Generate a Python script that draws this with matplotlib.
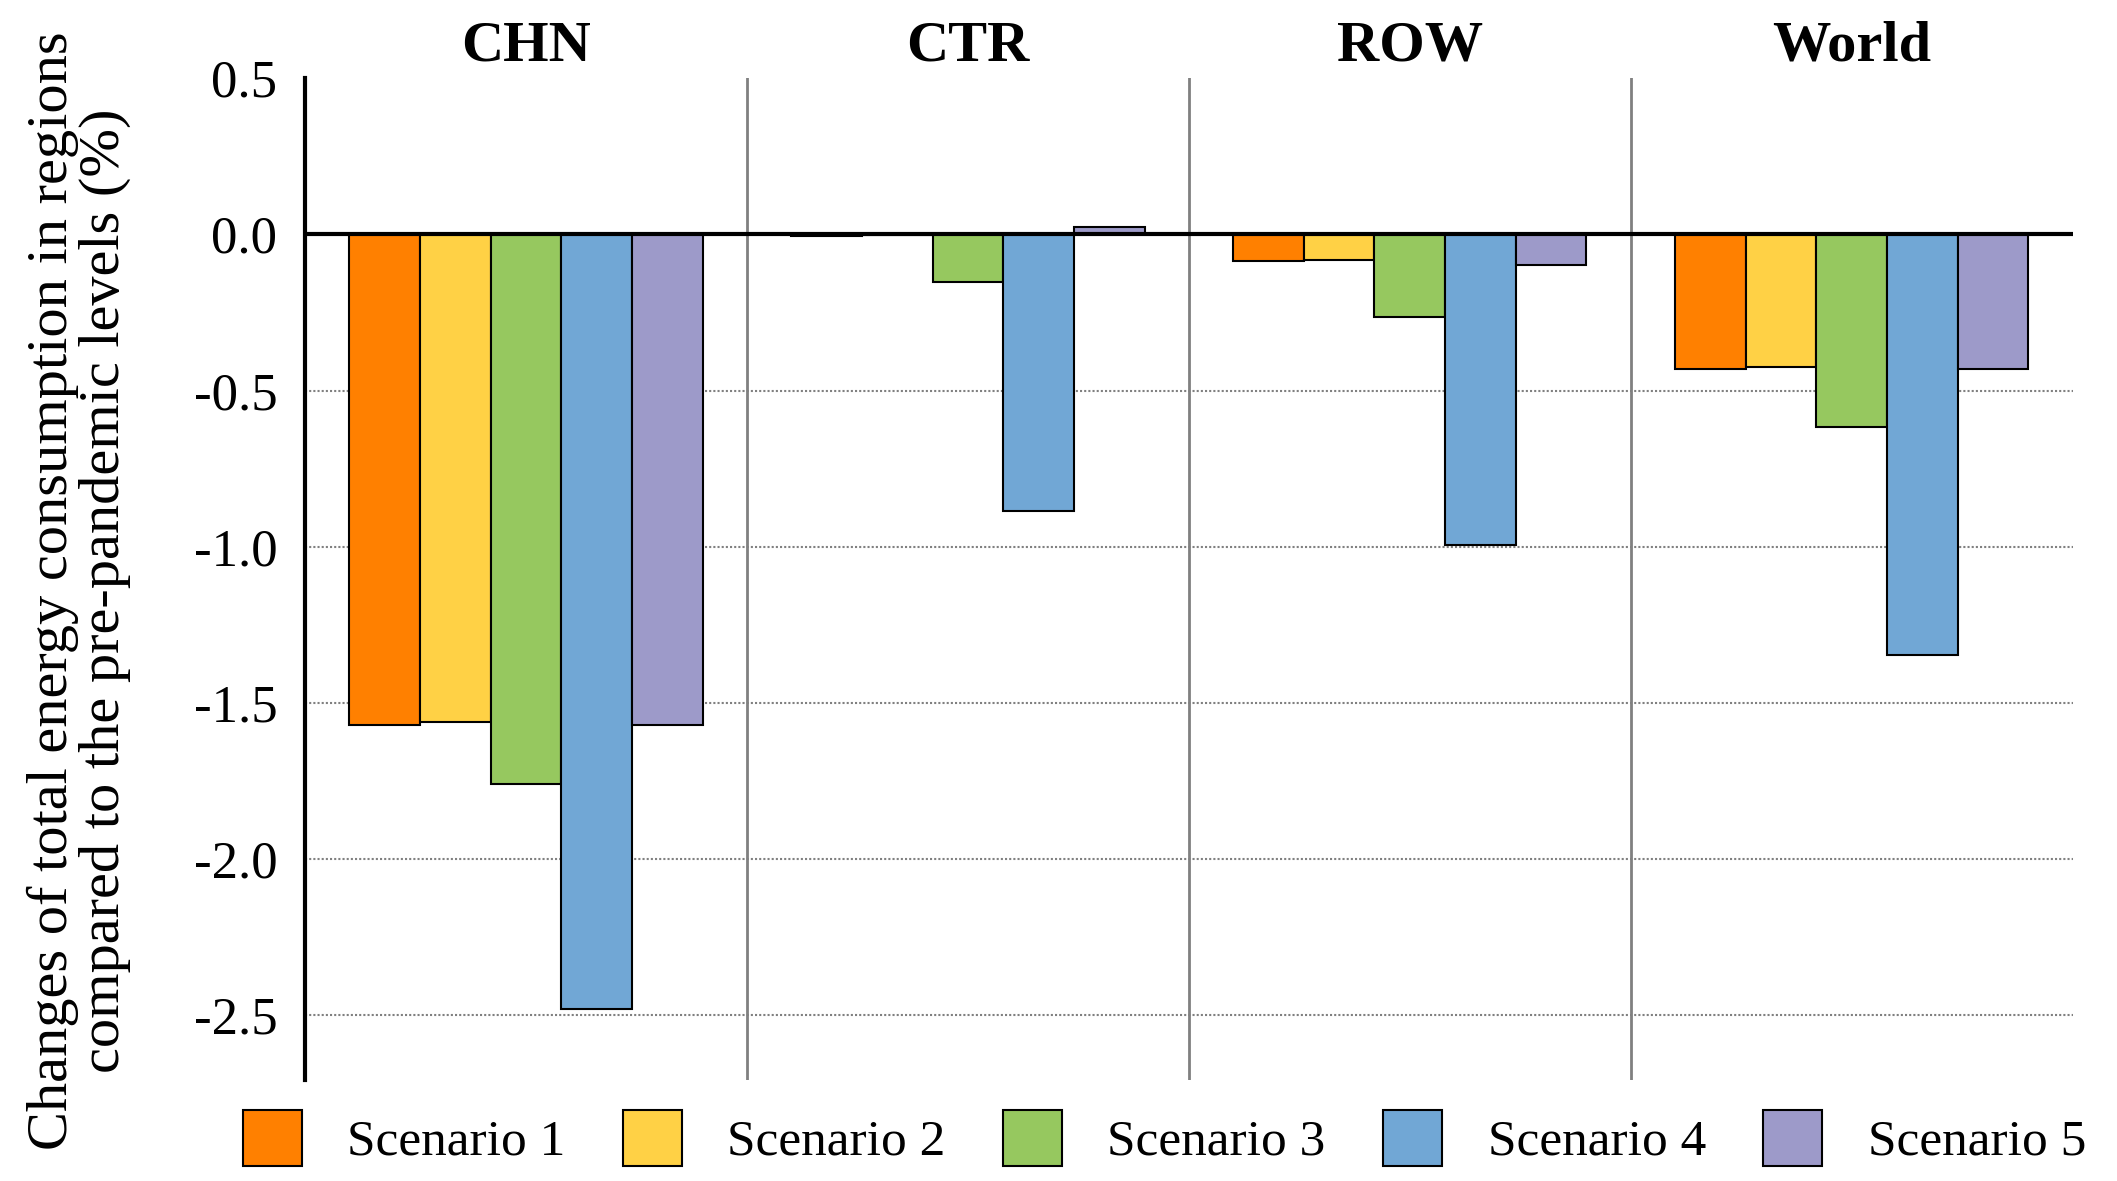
import matplotlib
matplotlib.use("Agg")
import matplotlib.pyplot as plt
import numpy as np

# ─── Data ────────────────────────────────────────────────────────────────────

regions = ["CHN", "CTR", "ROW", "World"]
scenarios = ["Scenario 1", "Scenario 2", "Scenario 3", "Scenario 4", "Scenario 5"]

scenario_1 = [-1.57, -0.006, -0.086, -0.432]
scenario_2 = [-1.56, -0.002, -0.081, -0.425]
scenario_3 = [-1.76, -0.152, -0.265, -0.617]
scenario_4 = [-2.48, -0.886, -0.995, -1.347]
scenario_5 = [-1.57, 0.025, -0.099, -0.432]

y_ticks = [0.5, 0.0, -0.5, -1.0, -1.5, -2.0, -2.5]

colors = ["#FF8000", "#FFD145", "#96C85F", "#71A7D5", "#9D9AC9"]

# ─── Figure ──────────────────────────────────────────────────────────────────

SERIF = ["Liberation Serif", "DejaVu Serif"]
plt.rcParams["font.family"] = SERIF
plt.rcParams["axes.unicode_minus"] = False

fig = plt.figure(figsize=(21.17, 11.81), dpi=100)
ax = fig.add_axes([0.1441, 0.0857, 0.979 - 0.1441, 0.9337 - 0.0857])

series = [scenario_1, scenario_2, scenario_3, scenario_4, scenario_5]
x = np.arange(len(regions))
width = 0.16
for i, (vals, name, col) in enumerate(zip(series, scenarios, colors)):
    ax.bar(x + (i - 2) * width, vals, width, color=col, label=name,
           edgecolor="black", linewidth=1.5, zorder=3)

ax.set_xlim(-0.5, len(regions) - 0.5)
ax.set_ylim(-2.707, 0.5)

# dotted grid lines below zero, solid zero line
for t in y_ticks:
    if t < 0:
        ax.axhline(t, color="#808080", linestyle=(0, (1, 1)), linewidth=1.5, zorder=1)
ax.axhline(0, color="black", linewidth=3, zorder=4)

# region separators
for b in x[:-1] + 0.5:
    ax.axvline(b, color="#808080", linewidth=2, zorder=1)

for side in ["top", "right", "bottom"]:
    ax.spines[side].set_visible(False)
ax.spines["left"].set_linewidth(3)

ax.set_yticks(y_ticks)
ax.set_yticklabels([f"{t:.1f}" for t in y_ticks], family=SERIF)
ax.tick_params(axis="y", length=0, pad=20, labelsize=38)

ax.xaxis.tick_top()
ax.set_xticks(x)
ax.set_xticklabels(regions, fontweight="bold", family=SERIF)
ax.tick_params(axis="x", length=0, pad=4, labelsize=42)

fig.text(0.0373, 0.5,
         "Changes of total energy consumption in regions\n"
         "compared to the pre-pandemic levels (%)",
         rotation=90, ha="center", va="center", multialignment="center",
         fontsize=42, linespacing=1.0, family=SERIF)

fig.legend(loc="center", bbox_to_anchor=(0.550, 0.0366), ncol=5,
           frameon=False, fontsize=37, handlelength=1.15, handleheight=1.3,
           handletextpad=0.88, columnspacing=1.12, borderpad=0)

fig.savefig("out.png", dpi=100)
